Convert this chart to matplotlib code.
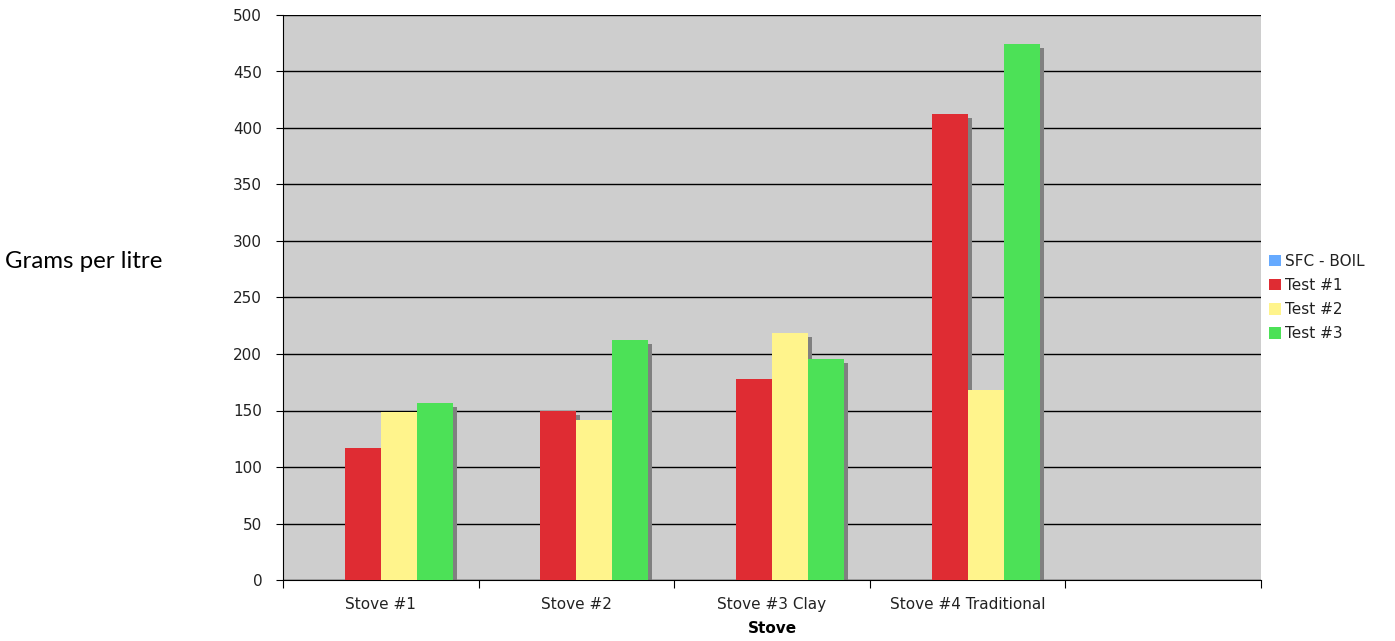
import matplotlib
matplotlib.use("Agg")
import matplotlib.pyplot as plt
import numpy as np
from matplotlib.transforms import ScaledTranslation

plt.rcParams["font.family"] = ["DejaVu Sans"]

categories = ["Stove #1", "Stove #2", "Stove #3 Clay", "Stove #4 Traditional", ""]
series_names = ["SFC - BOIL", "Test #1", "Test #2", "Test #3"]
sfc_boil = [0, 0, 0, 0, 0]
test1 = [117, 150, 178, 412, 0]
test2 = [149, 142, 219, 168, 0]
test3 = [157, 212, 196, 474, 0]
colors = ["#66AAFF", "#DF2C33", "#FFF48C", "#4CE157"]
yticks = [0, 50, 100, 150, 200, 250, 300, 350, 400, 450, 500]

W, H = 1395, 641
fig = plt.figure(figsize=(W / 100, H / 100), dpi=100)
ax = fig.add_axes([283 / W, (H - 580) / H, (1261 - 283) / W, (580 - 15) / H])
ax.set_facecolor("#CECECE")

series = [sfc_boil, test1, test2, test3]
x = np.arange(len(categories))
bw = 0.184
offsets = (np.arange(4) - 1.5) * bw

shadow_tf = ax.transData + ScaledTranslation(4 / 100, -4 / 100, fig.dpi_scale_trans)
for i, vals in enumerate(series):
    if i == 0:
        continue
    ax.bar(x + offsets[i], vals, width=bw, color="#808080", zorder=2,
           linewidth=0, transform=shadow_tf)
for i, vals in enumerate(series):
    ax.bar(x + offsets[i], vals, width=bw, color=colors[i], zorder=3,
           linewidth=0, label=series_names[i])

fs = 11
ax.set_xlim(-0.5, len(categories) - 0.5)
ax.set_ylim(0, 500)
ax.set_yticks(yticks)
ax.yaxis.grid(True, color="#000000", linewidth=1.0, zorder=1)
ax.set_axisbelow(True)
ax.set_xticks(np.arange(len(categories) + 1) - 0.5, minor=False)
ax.set_xticklabels([])
ax.set_xticks(x, minor=True)
ax.set_xticklabels(categories, minor=True)
ax.tick_params(axis="x", which="major", length=6, direction="out", color="#000000")
ax.tick_params(axis="x", which="minor", length=0, pad=12, labelsize=fs,
               labelcolor="#222222")
ax.tick_params(axis="y", length=5, direction="out", labelsize=fs, pad=10,
               labelcolor="#222222")

for s in ["top", "right"]:
    ax.spines[s].set_visible(False)
ax.spines["left"].set_color("#000000")
ax.spines["bottom"].set_color("#000000")

ax.set_xlabel("Stove", fontsize=fs, fontweight="bold", labelpad=7)
fig.text(5 / W, 1 - 261 / H, "Grams per litre", fontsize=17.3, family="Lato",
         ha="left", va="center")

leg = ax.legend(loc="center left", bbox_to_anchor=(1.0, 0.5), frameon=False,
                fontsize=fs, handlelength=0.8, handleheight=0.8, handletextpad=0.3,
                labelspacing=0.6, borderaxespad=0.2, borderpad=0.3)
for t in leg.get_texts():
    t.set_color("#222222")

fig.savefig("out.png", dpi=100)
